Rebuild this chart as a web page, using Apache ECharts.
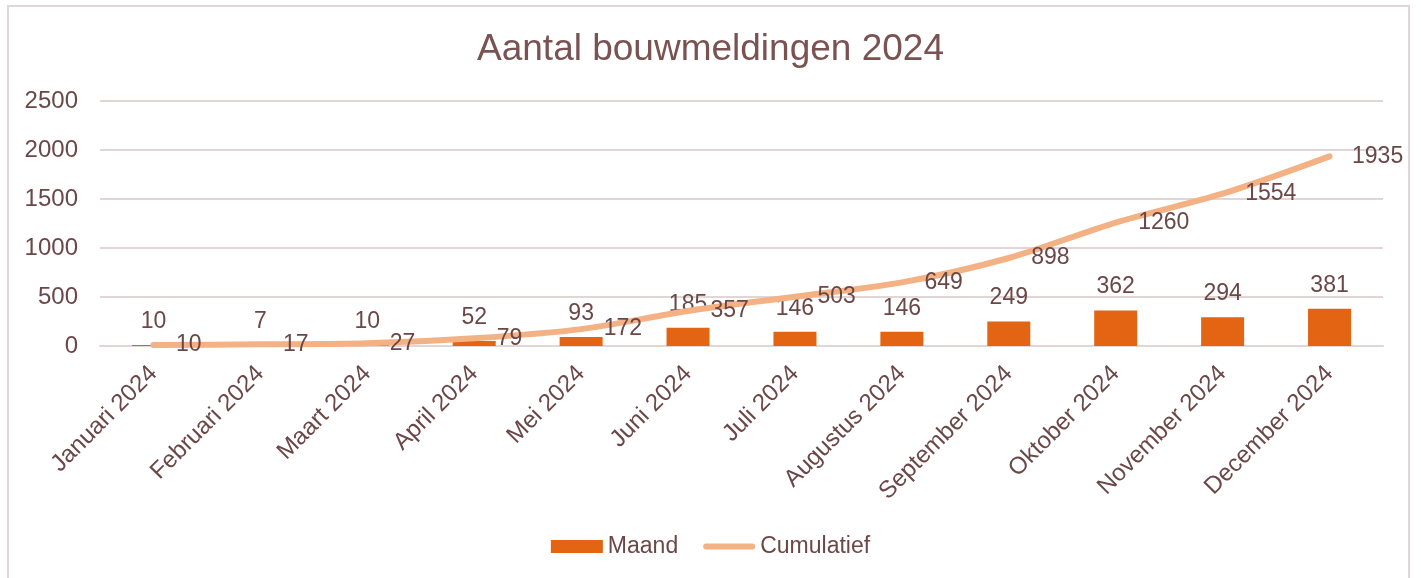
<!DOCTYPE html>
<html>
<head>
<meta charset="utf-8">
<script src="https://cdn.jsdelivr.net/npm/echarts@6/dist/echarts.min.js"></script>
<style>
  html, body { margin: 0; padding: 0; background: #fff; }
  .chart_wrap {
    position: absolute; left: 7px; top: 5px; width: 1403px; height: 580px;
    border: 2px solid #e2d5d5; box-sizing: border-box;
  }
  #chart { position: absolute; left: 0; top: 0; width: 1421px; height: 578px; }
</style>
</head>
<body>
<div class="chart_wrap"></div>
<div id="chart"></div>
<script>
const months = ["Januari 2024", "Februari 2024", "Maart 2024", "April 2024", "Mei 2024", "Juni 2024",
  "Juli 2024", "Augustus 2024", "September 2024", "Oktober 2024", "November 2024", "December 2024"];
const maand = [10, 7, 10, 52, 93, 185, 146, 146, 249, 362, 294, 381];
const cumulatief = [10, 17, 27, 79, 172, 357, 503, 649, 898, 1260, 1554, 1935];

const textColor = "#6b4747"; // bruinige tekstkleur
const font = "Liberation Sans, Arial, sans-serif";

const chart = echarts.init(document.getElementById("chart"));
chart.setOption({
  animation: false,
  textStyle: { fontFamily: font },
  title: {
    text: "Aantal bouwmeldingen 2024",
    left: "center",
    top: 26,
    textStyle: { fontSize: 37, fontWeight: "normal", color: "#7a5252", fontFamily: font },
  },
  legend: {
    bottom: 15,
    left: "center",
    itemWidth: 52,
    itemHeight: 13,
    itemGap: 25,
    textStyle: { fontSize: 23, color: textColor, fontFamily: font },
    data: [
      { name: "Maand", icon: "rect" },
      { name: "Cumulatief", icon: "path://M3,0 h46 a3,3 0 0 1 0,6 h-46 a3,3 0 0 1 0,-6 z" },
    ],
  },
  grid: { left: 100, right: 38, top: 101, bottom: 232 },
  xAxis: {
    type: "category",
    data: months,
    axisLine: { lineStyle: { color: "#e2d5d5", width: 2 } },
    axisTick: { show: false },
    axisLabel: {
      interval: 0,
      rotate: 45,
      margin: 24,
      fontSize: 24,
      color: textColor,
      fontFamily: font,
    },
  },
  yAxis: {
    type: "value",
    min: 0,
    max: 2500,
    interval: 500,
    axisLine: { show: false },
    axisTick: { show: false },
    axisLabel: { fontSize: 24, color: textColor, margin: 22, fontFamily: font, formatter: (v) => String(v) },
    splitLine: { lineStyle: { color: "#e2d5d5", width: 2 } },
  },
  series: [
    {
      name: "Maand",
      type: "bar",
      data: maand,
      barWidth: 43,
      itemStyle: { color: "#e36412" },
      label: {
        show: true,
        position: "top",
        distance: 12,
        fontSize: 23,
        color: textColor,
        fontFamily: font,
      },
      z: 2,
    },
    {
      name: "Cumulatief",
      type: "line",
      data: cumulatief,
      smooth: 0.3,
      symbol: "circle",
      symbolSize: 1,
      showSymbol: true,
      lineStyle: { color: "#f4b183", width: 6, cap: "round" },
      itemStyle: { color: "#f4b183" },
      label: {
        show: true,
        position: "right",
        distance: 22,
        fontSize: 23,
        color: textColor,
        fontFamily: font,
      },
      z: 3,
    },
  ],
});
</script>
</body>
</html>
